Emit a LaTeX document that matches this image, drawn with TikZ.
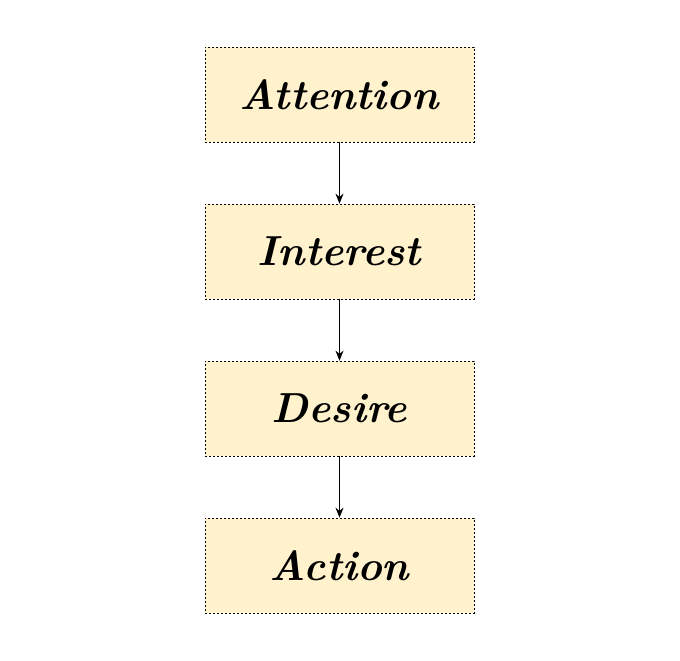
\documentclass[tikz,border=0pt]{standalone}
\usetikzlibrary{arrows.meta}
\definecolor{notefill}{HTML}{FFF2CC}
\tikzset{
  stage/.style={draw, dash pattern=on 2.4pt off 1.6pt, line width=0.7pt,
    fill=notefill, minimum width=269pt, minimum height=95pt,
    inner sep=0pt, font=\fontsize{42}{46}\selectfont\bfseries\itshape},
}
\begin{document}
\begin{tikzpicture}[node distance = 157pt, auto, >={Stealth[length=10pt,width=8pt]}]
\useasboundingbox (0,0) rectangle (680pt,-661pt);
\node (att) [stage] at (339.5pt,-94.5pt) {Attention};
\node (int) [stage, below of=att] {Interest};
\node (des) [stage, below of=int] {Desire};
\node (act) [stage, below of=des] {Action};

\path [->, line width=1pt] (att) edge (int);
\path [->, line width=1pt] (int) edge (des);
\path [->, line width=1pt] (des) edge (act);
\end{tikzpicture}
\end{document}
